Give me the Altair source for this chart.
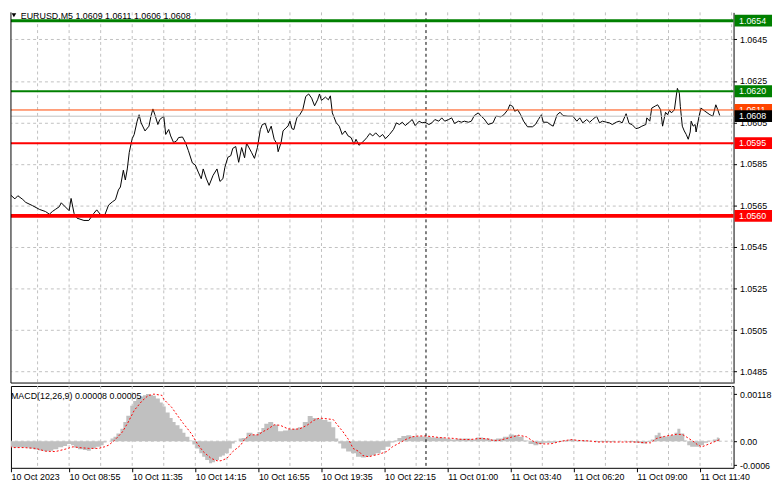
import altair as alt
import pandas as pd

# ---------------- data ----------------
price_bar = [0, 2, 4.5, 6, 8.5, 10, 13.5, 17, 20, 22, 23.5, 25, 27, 28, 30, 32, 33, 34.5, 36, 39.5,
             42, 44.5, 46, 48, 50, 52, 54, 55.5, 57, 58, 59.5, 60.5, 61.5, 62.5, 64, 65, 66.5, 67.5, 68.5, 70.5,
             72.5, 73.5, 74.5, 75.5, 77, 78, 80, 81, 82.5, 83.5, 85, 86.5, 87.5, 89.5, 91, 92.5, 94.5, 96, 97.5, 99,
             100, 101.5, 103, 105, 107, 108.5, 110, 111, 112.5, 114, 115, 116.5, 118, 119.5, 121, 122, 124.5, 126, 127.5, 129,
             130, 131.5, 133, 134.5, 136, 137.5, 138, 139.5, 140.5, 142, 143, 144, 145, 146, 147.5, 149, 150.5, 152, 153.5, 155,
             156.5, 158, 159, 160, 162, 163.5, 164.5, 165.5, 167.5, 169, 170.5, 172, 173.5, 175, 176.5, 177.5, 179, 181.5, 183, 184.5,
             186, 187.5, 189.5, 191, 192.5, 194.5, 196.5, 198, 199.5, 201, 202.5, 204.5, 206, 207.5, 209.5, 211, 212.5, 214.5, 216, 217.5,
             219.5, 221, 222.5, 224.5, 226, 227.5, 229.5, 231, 232.5, 234.5, 236, 237.5, 239.5, 241, 242.5, 244.5, 247, 248.5, 251, 252.5,
             254.5, 255.5, 257, 258, 259.5, 261, 262.5, 264.5, 267, 268.5, 270, 271.5, 272.5, 274.5, 276, 277.5, 279.5, 281, 282.5, 285,
             287.5, 289.5, 291, 292.5, 294.5, 296, 297.5, 299.5, 301, 302.5, 304.5, 306, 307.5, 309.5, 311, 312.5, 314.5, 316, 317.5, 319.5,
             321, 322.5, 324.5, 325, 326.5, 327.5, 329.5, 330.5, 332, 333, 334.5, 335.5, 336.5, 337.5, 339, 340, 340.5, 341.5, 342, 343,
             344, 345, 346, 347, 347.5, 348.5, 349.5, 350, 351.5, 352.5, 354.5, 357, 358.5, 360, 361, 362]
price_close = [1.05684, 1.05703, 1.05682, 1.05697, 1.05679, 1.05665, 1.05649, 1.05631, 1.05621, 1.05608, 1.05621, 1.05631, 1.05644, 1.05663, 1.05644, 1.05625, 1.05684, 1.05612, 1.05589, 1.05578,
               1.05578, 1.05612, 1.05629, 1.05605, 1.05602, 1.05652, 1.05668, 1.05678, 1.05725, 1.05739, 1.05820, 1.05773, 1.05826, 1.05906, 1.05972, 1.05992, 1.06056, 1.06087, 1.06048, 1.06009,
               1.06032, 1.06080, 1.06115, 1.06087, 1.06040, 1.06064, 1.06080, 1.05992, 1.06016, 1.05985, 1.05953, 1.05961, 1.05977, 1.05980, 1.05953, 1.05914, 1.05855, 1.05845, 1.05811, 1.05779,
               1.05826, 1.05782, 1.05747, 1.05795, 1.05826, 1.05766, 1.05779, 1.05834, 1.05882, 1.05890, 1.05925, 1.05934, 1.05858, 1.05929, 1.05880, 1.05950, 1.05906, 1.05877, 1.05929, 1.06016,
               1.06040, 1.06045, 1.06000, 1.06032, 1.05969, 1.05945, 1.05909, 1.05953, 1.06009, 1.06024, 1.06032, 1.06056, 1.06020, 1.06016, 1.06072, 1.06087, 1.06111, 1.06175, 1.06187, 1.06167,
               1.06130, 1.06159, 1.06187, 1.06156, 1.06172, 1.06159, 1.06178, 1.06096, 1.06048, 1.06032, 1.05992, 1.06009, 1.05985, 1.05977, 1.05945, 1.05969, 1.05940, 1.05961, 1.05977, 1.05997,
               1.05985, 1.06000, 1.05980, 1.05992, 1.05972, 1.05992, 1.06016, 1.06048, 1.06040, 1.06051, 1.06035, 1.06051, 1.06064, 1.06035, 1.06056, 1.06048, 1.06051, 1.06040, 1.06048, 1.06064,
               1.06056, 1.06072, 1.06056, 1.06064, 1.06072, 1.06045, 1.06056, 1.06051, 1.06056, 1.06051, 1.06056, 1.06083, 1.06096, 1.06080, 1.06067, 1.06040, 1.06048, 1.06080, 1.06077, 1.06087,
               1.06111, 1.06135, 1.06127, 1.06104, 1.06111, 1.06087, 1.06056, 1.06029, 1.06029, 1.06040, 1.06064, 1.06087, 1.06051, 1.06051, 1.06040, 1.06032, 1.06087, 1.06099, 1.06083, 1.06080,
               1.06080, 1.06056, 1.06072, 1.06048, 1.06064, 1.06051, 1.06064, 1.06080, 1.06048, 1.06056, 1.06051, 1.06048, 1.06040, 1.06051, 1.06056, 1.06048, 1.06092, 1.06045, 1.06040, 1.06020,
               1.06024, 1.06032, 1.06040, 1.06072, 1.06056, 1.06119, 1.06130, 1.06135, 1.06111, 1.06032, 1.06099, 1.06087, 1.06108, 1.06096, 1.06111, 1.06182, 1.06214, 1.06191, 1.06127, 1.06032,
               1.06009, 1.05992, 1.05969, 1.06004, 1.06056, 1.06032, 1.06040, 1.06004, 1.06080, 1.06119, 1.06104, 1.06087, 1.06080, 1.06135, 1.06111, 1.06083]

hist_bar = [0, 3, 5, 8, 10, 13, 15, 18, 20, 23, 25, 28, 30, 32, 34, 35, 38, 40, 42, 44,
            47, 49, 50, 52, 54, 55, 57, 59, 60, 62, 64, 65, 67, 69, 70, 72, 74, 75, 77, 79,
            80, 82, 84, 85, 87, 89, 90, 92, 94, 95, 97, 99, 100, 102, 104, 105, 107, 109, 110, 112,
            114, 115, 117, 119, 120, 124, 126, 129, 130, 132, 134, 137, 139, 142, 144, 147, 149, 152, 154, 157,
            159, 162, 164, 166, 168, 169, 171, 174, 176, 179, 181, 184, 186, 189, 191, 194, 196, 198, 199, 202,
            204, 207, 210, 214, 217, 220, 224, 227, 230, 234, 237, 240, 244, 247, 250, 254, 256, 259, 261, 264,
            266, 269, 271, 274, 277, 280, 284, 287, 290, 294, 297, 300, 304, 307, 310, 314, 317, 320, 324, 326,
            328, 330, 331, 333, 335, 338, 340, 341, 343, 345, 346, 348, 350, 353, 355, 357, 360, 361, 362]
hist_val = [-0.00014, -0.00015, -0.00016, -0.00015, -0.00016, -0.00018, -0.00021, -0.00023, -0.00025, -0.00024, -0.0002, -0.00015, -0.00012, -0.00007, -0.0001, -0.00016, -0.0002, -0.00022, -0.00024, -0.00018,
            -0.00014, -0.0001, -0.00003, 0.0, 0.00007, 0.00011, 0.00019, 0.00031, 0.00048, 0.00064, 0.00089, 0.00101, 0.00107, 0.00112, 0.00115, 0.00118, 0.00116, 0.00114, 0.00107, 0.00097,
            0.00087, 0.00072, 0.00058, 0.00048, 0.0004, 0.00031, 0.00021, 0.00011, 0.00002, -0.00008, -0.00018, -0.0003, -0.00039, -0.00047, -0.00055, -0.00053, -0.00047, -0.00039, -0.00036, -0.0003,
            -0.00018, -0.00006, 0.0, 0.00007, 0.00008, 0.00021, 0.00016, 0.00023, 0.00033, 0.00044, 0.00048, 0.00041, 0.00025, 0.00027, 0.0003, 0.00031, 0.00035, 0.00048, 0.00063, 0.00058,
            0.00056, 0.00053, 0.00049, 0.00035, 0.00007, -0.00006, -0.00018, -0.00026, -0.0003, -0.00039, -0.00041, -0.00039, -0.00035, -0.0003, -0.00022, -0.00014, -0.00003, 0.00002, 0.00008, 0.00013,
            0.00015, 0.00012, 0.00012, 0.00011, 0.00009, 0.00009, 0.00007, 0.00004, 0.00006, 0.00007, 0.00004, 0.00009, 0.00007, 0.00004, 0.00007, 0.00011, 0.00017, 0.00015, 0.00011, 0.00002,
            -0.00007, -0.0001, -0.00007, -0.00004, -0.00004, -0.00002, 0.00002, 0.00004, 0.00002, 0.00002, 0.0, -0.00002, -0.00002, -0.00002, 0.0, 0.0, -0.00002, -0.00004, -0.00006, -0.00002,
            0.00004, 0.00015, 0.00021, 0.00012, 0.00012, 0.00015, 0.00021, 0.00031, 0.00019, 0.00002, -0.0001, -0.00014, -0.00014, -0.0001, -0.00004, 0.00001, 0.00004, 0.00009, 0.00008]

sig_bar = [0, 4, 9, 15, 20, 25, 30, 34, 37, 42, 47, 50, 52, 55, 59, 62, 65, 69, 72, 75,
           79, 80, 84, 87, 90, 94, 97, 100, 104, 107, 109, 112, 115, 119, 121, 124, 128, 130, 133, 136,
           139, 143, 146, 149, 153, 156, 159, 163, 166, 169, 171, 174, 176, 179, 181, 184, 186, 189, 193, 196,
           199, 203, 206, 209, 213, 217, 220, 224, 227, 230, 234, 237, 240, 244, 247, 250, 254, 257, 260, 264,
           267, 270, 274, 277, 280, 284, 287, 290, 294, 297, 300, 304, 307, 310, 314, 317, 320, 324, 327, 330,
           334, 337, 340, 343, 345, 349, 351, 353, 355, 358, 360, 362]
sig_val = [-0.00012, -0.00016, -0.00016, -0.00018, -0.00025, -0.00026, -0.0002, -0.00014, -0.00016, -0.00018, -0.00018, -0.00014, -0.0001, 0.00002, 0.00023, 0.00048, 0.00077, 0.00101, 0.00114, 0.00118,
           0.00115, 0.00105, 0.00085, 0.00064, 0.00044, 0.00019, -0.00006, -0.00026, -0.00043, -0.00049, -0.00049, -0.00043, -0.00026, -0.0001, 0.00005, 0.00016, 0.00016, 0.00023, 0.00031, 0.00041,
           0.0004, 0.00031, 0.0003, 0.00031, 0.00041, 0.00052, 0.00058, 0.00056, 0.00054, 0.00035, 0.00023, 0.00002, -0.00018, -0.00026, -0.00036, -0.00039, -0.00036, -0.00033, -0.00026, -0.00014,
           -0.00006, 0.00005, 0.00011, 0.00013, 0.00013, 0.00011, 0.00009, 0.00008, 0.00007, 0.00005, 0.00004, 0.00005, 0.00007, 0.00006, 0.00002, 0.00002, 0.00007, 0.00011, 0.00015, 0.00011,
           0.00001, -0.00006, -0.00007, -0.00006, -0.00002, 0.00002, 0.00004, 0.00002, 0.00001, 0.0, -0.00002, -0.00002, -0.00002, -0.00002, -0.00002, -0.00002, -0.00002, -0.00004, -0.00004, 0.00007,
           0.00012, 0.00015, 0.00017, 0.00017, 0.00011, -0.00002, -0.0001, -0.00014, -0.0001, -0.00004, 0.0, 0.00004]

green_levels = [1.0654, 1.0620]
red_levels = [1.0595, 1.0560]
ask_level = 1.0611
bid_level = 1.0608
price_ticks = [1.0485, 1.0505, 1.0525, 1.0545, 1.0565, 1.0585, 1.0605, 1.0625, 1.0645]
time_tick_bars = [0, 32, 64, 96, 128, 160, 192, 224, 256, 288, 320, 352]
time_tick_labels = ["10 Oct 2023", "10 Oct 08:55", "10 Oct 11:35", "10 Oct 14:15", "10 Oct 16:55",
                    "10 Oct 19:35", "10 Oct 22:15", "11 Oct 01:00", "11 Oct 03:40", "11 Oct 06:20",
                    "11 Oct 09:00", "11 Oct 11:40"]
separator_bars = [213]
macd_ticks = [0.00118, 0.0, -0.0006]
macd_tick_labels = ["0.00118", "0.00", "-0.0006"]
header_text = "EURUSD,M5  1.0609 1.0611 1.0606 1.0608"
macd_text = "MACD(12,26,9) 0.00008 0.00005"

# ---------------- layout / style ----------------
X0, X1 = 2.5, 369
W = 733
H_MAIN = 376
H_MACD = 83
FONT = "Liberation Sans"
GRID = "#C0C0C0"
BOX_X0, BOX_X1 = 734, 772

xscale = alt.Scale(domain=[X0, X1], nice=False, zero=False)
yscale_main = alt.Scale(domain=[1.04795, 1.06580], nice=False, zero=False)
yscale_macd = alt.Scale(domain=[-0.000667, 0.001383], nice=False, zero=False)


def ternary(values, labels):
    return "".join(f"datum.value == {v} ? '{l}' : " for v, l in zip(values, labels)) + "''"


tick_pos = [max(v, X0) for v in time_tick_bars]

# shared axis definitions (identical in every layer so they merge)
AX_MAIN_X = alt.Axis(labels=False, ticks=False, domain=False, grid=False, title=None)
AX_MAIN_Y = alt.Axis(orient="right", values=price_ticks, format=".4f", title=None,
                     labelAlign="left", labelBaseline="middle", labelFont=FONT, labelFontSize=9,
                     labelColor="black", labelPadding=3, tickSize=3, tickColor="black",
                     domainColor="black", grid=True, gridColor=GRID, gridDash=[3, 3],
                     labelOverlap=False, labelFlush=False)
AX_MACD_X = alt.Axis(values=tick_pos, labelExpr=ternary(tick_pos, time_tick_labels), title=None,
                     labelAlign="left", labelFont=FONT, labelFontSize=9, labelColor="black",
                     labelPadding=1, tickSize=4, tickColor="black", domain=False, grid=False,
                     labelOverlap=False, labelFlush=False)
AX_MACD_Y = alt.Axis(orient="right", values=macd_ticks, labelExpr=ternary(macd_ticks, macd_tick_labels),
                     title=None, labelAlign="left", labelBaseline="middle", labelFont=FONT,
                     labelFontSize=9, labelColor="black", labelPadding=3, tickSize=3,
                     tickColor="black", domain=False, grid=False, labelOverlap=False,
                     labelFlush=False)

grid_df = pd.DataFrame({"bar": list(range(16, 369, 16))})
sep_df = pd.DataFrame({"bar": separator_bars})
price_df = pd.DataFrame({"bar": price_bar, "close": price_close})
hist_df = pd.DataFrame({"bar": hist_bar, "v": hist_val})
sig_df = pd.DataFrame({"bar": sig_bar, "v": sig_val})
one = pd.DataFrame({"a": [0]})


def vgrid(ax):
    return alt.Chart(grid_df).mark_rule(color=GRID, strokeDash=[3, 3], strokeWidth=1).encode(
        x=alt.X("bar:Q", scale=xscale, axis=ax))


def separator(ax):
    return alt.Chart(sep_df).mark_rule(color="black", strokeDash=[3, 3], strokeWidth=1).encode(
        x=alt.X("bar:Q", scale=xscale, axis=ax))


def hline(p, color, width):
    return alt.Chart(pd.DataFrame({"p": [p]})).mark_rule(color=color, strokeWidth=width).encode(
        y=alt.Y("p:Q", scale=yscale_main, axis=AX_MAIN_Y))


def price_box(p, fill):
    d = pd.DataFrame({"p": [p], "t": [f"{p:.4f}"]})
    box = alt.Chart(d).mark_rect(x=BOX_X0, x2=BOX_X1, yOffset=-6, y2Offset=6, color=fill).encode(
        y=alt.Y("p:Q", scale=yscale_main, axis=AX_MAIN_Y), y2=alt.Y2("p:Q"))
    txt = alt.Chart(d).mark_text(x=BOX_X0 + 4.5, align="left", baseline="middle", color="white",
                                 font=FONT, fontSize=9).encode(
        y=alt.Y("p:Q", scale=yscale_main, axis=AX_MAIN_Y), text="t:N")
    return box + txt


price_line = alt.Chart(price_df).mark_line(color="black", strokeWidth=1, clip=True).encode(
    x=alt.X("bar:Q", scale=xscale, axis=AX_MAIN_X),
    y=alt.Y("close:Q", scale=yscale_main, axis=AX_MAIN_Y),
)

left_border = alt.Chart(one).mark_rule(color="black").encode(
    x=alt.value(0), y=alt.value(0), y2=alt.value(H_MAIN))
bottom_border = alt.Chart(one).mark_rule(color="black").encode(
    x=alt.value(0), x2=alt.value(W), y=alt.value(H_MAIN))

tri = alt.Chart(one).mark_point(shape="triangle-down", filled=True, color="black", size=22,
                                opacity=1).encode(x=alt.value(3), y=alt.value(3))
header = alt.Chart(one).mark_text(align="left", baseline="top", font=FONT, fontSize=9,
                                  color="black", text=header_text).encode(
    x=alt.value(10), y=alt.value(0))

main = alt.layer(
    vgrid(AX_MAIN_X), price_line, separator(AX_MAIN_X),
    hline(bid_level, "#C0C0C0", 1), hline(ask_level, "#FF4500", 1),
    hline(green_levels[0], "#008000", 3), hline(green_levels[1], "#008000", 2),
    hline(red_levels[0], "#FF0000", 2), hline(red_levels[1], "#FF0000", 4),
    price_box(green_levels[0], "#008000"), price_box(green_levels[1], "#008000"),
    price_box(ask_level, "#FF4500"), price_box(bid_level, "#000000"),
    price_box(red_levels[0], "#FF0000"), price_box(red_levels[1], "#FF0000"),
    left_border, bottom_border, tri, header,
).properties(width=W, height=H_MAIN, view=alt.ViewBackground(stroke="transparent"))

zero_line = alt.Chart(pd.DataFrame({"v": [0.0]})).mark_rule(
    color=GRID, strokeDash=[3, 3], strokeWidth=1).encode(
    y=alt.Y("v:Q", scale=yscale_macd, axis=AX_MACD_Y))

hist = alt.Chart(hist_df).mark_area(interpolate="step", color="#C0C0C0", opacity=1, clip=True).encode(
    x=alt.X("bar:Q", scale=xscale, axis=AX_MACD_X),
    y=alt.Y("v:Q", scale=yscale_macd, axis=AX_MACD_Y),
    y2=alt.datum(0),
)

signal = alt.Chart(sig_df).mark_line(color="#FF0000", strokeDash=[2, 2], strokeWidth=1, clip=True).encode(
    x=alt.X("bar:Q", scale=xscale, axis=AX_MACD_X),
    y=alt.Y("v:Q", scale=yscale_macd, axis=AX_MACD_Y),
)

macd_label = alt.Chart(one).mark_text(align="left", baseline="middle", font=FONT, fontSize=9,
                                      color="black", text=macd_text).encode(
    x=alt.value(0), y=alt.value(10))

macd = alt.layer(vgrid(AX_MACD_X), zero_line, hist, signal, separator(AX_MACD_X), macd_label).properties(
    width=W, height=H_MACD, view=alt.ViewBackground(stroke="black"))

chart = alt.vconcat(main, macd, spacing=1).properties(padding=0, background="white")

chart.save("out.html", embed_options={"renderer": "svg", "actions": False})
